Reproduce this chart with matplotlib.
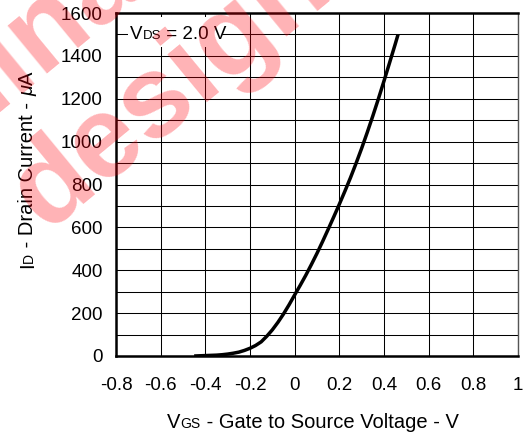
import matplotlib
matplotlib.use("Agg")
import matplotlib.pyplot as plt
from matplotlib.patches import Rectangle

# ---- data ----
vgs = [-0.45, -0.40, -0.35, -0.325, -0.30, -0.275, -0.25, -0.225, -0.20, -0.175,
       -0.15, -0.125, -0.10, -0.075, -0.05, -0.025, 0.00, 0.025, 0.05, 0.075,
       0.10, 0.125, 0.15, 0.175, 0.20, 0.225, 0.25, 0.275, 0.30, 0.325,
       0.35, 0.375, 0.40, 0.425, 0.45, 0.463]
id_ua = [0, 2, 4, 6, 9, 13, 18, 26, 36, 49,
         66, 92, 122, 157, 196, 239, 285, 330, 377, 427,
         479, 534, 591, 649, 708, 769, 832, 899, 969, 1043,
         1120, 1200, 1283, 1368, 1454, 1500]
x_ticks = [-0.8, -0.6, -0.4, -0.2, 0, 0.2, 0.4, 0.6, 0.8, 1]
x_tick_labels = ["-0.8", "-0.6", "-0.4", "-0.2", "0", "0.2", "0.4", "0.6", "0.8", "1"]
y_ticks = [0, 200, 400, 600, 800, 1000, 1200, 1400, 1600]
y_minor = [100, 300, 500, 700, 900, 1100, 1300, 1500]

FONT = "Liberation Sans"
plt.rcParams["font.family"] = [FONT, "DejaVu Sans"]

W, H = 530, 437
fig = plt.figure(figsize=(W / 100, H / 100), dpi=100)
L, R, T, B = 116, 518, 13, 356
ax = fig.add_axes([L / W, 1 - B / H, (R - L) / W, (B - T) / H])
ax.set_xlim(-0.8, 1.0)
ax.set_ylim(0, 1600)
ax.set_xticks(x_ticks)
ax.set_xticklabels(x_tick_labels)
ax.set_yticks(y_ticks)
ax.set_yticks(y_minor, minor=True)
ax.tick_params(axis="both", which="both", length=0, labelsize=13.5)
ax.tick_params(axis="x", pad=15)
ax.tick_params(axis="y", pad=9.5)
ax.set_axisbelow(True)
ax.grid(True, which="both", color="black", linewidth=0.75)
for s in ["left", "bottom", "top"]:
    ax.spines[s].set_linewidth(1.8)
ax.spines["right"].set_linewidth(1.0)
ax.spines["right"].set_color("#555555")

ax.plot(vgs, id_ua, color="black", linewidth=2.5, solid_capstyle="butt",
        solid_joinstyle="round", zorder=4)

# white box behind the VDS annotation (covers grid)
ax.add_patch(Rectangle((0.030, 0.901), 0.234, 0.087, transform=ax.transAxes,
                       facecolor="white", edgecolor="none", zorder=2))

fig.canvas.draw()
renderer = fig.canvas.get_renderer()


def text_width(s, size, **kw):
    t = fig.text(0, 0, s, fontsize=size, **kw)
    w = t.get_window_extent(renderer).width
    t.remove()
    return w


def horiz_pieces(x0_px, y_base_px, pieces, align="left", zorder=5):
    widths = [text_width(s, sz, **kw) for s, sz, kw in pieces]
    total = sum(widths)
    x = x0_px - (total / 2 if align == "center" else 0)
    for (s, sz, kw), w in zip(pieces, widths):
        fig.text(x / W, 1 - y_base_px / H, s, fontsize=sz, ha="left",
                 va="baseline", zorder=zorder, **kw)
        x += w


def vert_pieces(x_base_px, y_center_px, pieces):
    widths = [text_width(s, sz, **kw) for s, sz, kw in pieces]
    total = sum(widths)
    y = y_center_px + total / 2
    for (s, sz, kw), w in zip(pieces, widths):
        fig.text(x_base_px / W, 1 - y / H, s, fontsize=sz, rotation=90,
                 rotation_mode="anchor", ha="left", va="baseline", **kw)
        y -= w


# x label
horiz_pieces(313, 428, [("V", 14.5, {}), ("GS", 10, {}),
                        (" - Gate to Source Voltage - V", 14.5, {})], align="center")
# y label
vert_pieces(33, 170, [("I", 14.5, {}), ("D", 10, {}), (" - Drain Current - ", 14.5, {}),
                      ("\u03bc", 14.5, {"fontstyle": "italic"}), ("A", 14.5, {})])
# VDS label
horiz_pieces(130, 39, [("V", 13.5, {}), ("DS", 9.5, {}), (" = 2.0 V", 13.5, {})])

# watermark overlay
wm = dict(fontsize=84, fontweight="bold", color=(1.0, 0.0, 0.05), alpha=0.3,
          rotation=39.5, rotation_mode="anchor", ha="left", va="baseline", zorder=10)
fig.text(45 / W, 1 - 232 / H, "design", **wm)
fig.text(-260 / W, 1 - 320 / H, "Preliminary", **wm)

fig.savefig("out.png", dpi=100)
